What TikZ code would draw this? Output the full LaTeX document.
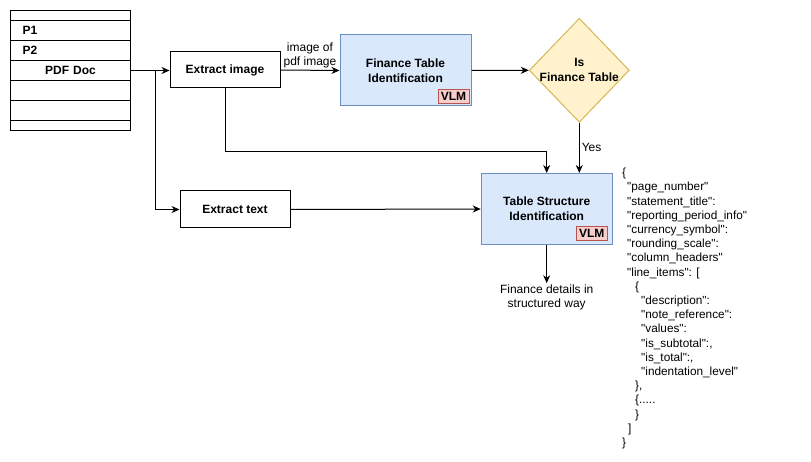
\documentclass[tikz,border=0pt]{standalone}
\usepackage{fontspec}
\setmainfont{Liberation Sans}
\newfontfamily\jsonfont{Liberation Sans}[Ligatures=TeXOff]
\usepackage{xcolor}
\usepackage{tikz}
\usetikzlibrary{matrix,shapes.geometric,arrows.meta}

\definecolor{modelfill}{HTML}{DAE8FC}
\definecolor{modelline}{HTML}{6C8EBF}
\definecolor{checkfill}{HTML}{FFF2CC}
\definecolor{checkline}{HTML}{D6B656}
\definecolor{vlmfill}{HTML}{F8CECC}
\definecolor{vlmline}{HTML}{B85450}

\newcommand{\jind}[1]{\hspace*{#1pt}}

\tikzset{
	procbox/.style={draw, line width=1pt, minimum width=110pt, minimum height=36pt, inner sep=0pt, font=\bfseries\fontsize{12}{14}\selectfont},
	modelbox/.style={draw=modelline, fill=modelfill, line width=1pt, minimum width=131pt, minimum height=71pt, inner sep=0pt, align=center, font=\bfseries\fontsize{12}{15}\selectfont},
	vlmbox/.style={draw=vlmline, fill=vlmfill, line width=1pt, minimum width=31pt, minimum height=14pt, inner sep=0pt, font=\bfseries\fontsize{12}{14}\selectfont, anchor=south east},
	checkbox/.style={diamond, aspect=0.96, draw=checkline, fill=checkfill, line width=1pt, minimum width=100pt, minimum height=104pt, inner sep=0pt},
	flow/.style={-{Stealth[length=8pt,width=7pt]}, line width=1pt},
}

\begin{document}
\begin{tikzpicture}[x=1pt, y=-1pt, font=\fontsize{12}{14}\selectfont]
	\useasboundingbox (0,0) rectangle (811,462);
	\matrix (doc) [matrix of nodes, nodes in empty cells, anchor=north west, inner sep=0pt, line width=1pt,
		nodes={draw, line width=1pt, text width=96pt, inner xsep=12pt, inner ysep=0pt, minimum height=20pt, font=\bfseries\fontsize{12}{14}\selectfont},
		row sep=-\pgflinewidth] at (9.5,9.5) {
		|[minimum height=10pt]| \\
		P1 \\
		P2 \\
		|[align=center]| PDF Doc \\
		\\
		\\
		|[minimum height=10pt]| \\
	};

	\node[procbox] (exim) at (225,70) {Extract image};
	\node[procbox, minimum height=37pt] (extxt) at (235,209.5) {Extract text};
	\node[modelbox] (fti) at (405.5,70.5) {Finance Table\\Identification};
	\node[checkbox, label={[font=\bfseries\fontsize{12}{15}\selectfont, align=center]center:Is\\Finance Table}] (isft) at (579.3,70.3) {};
	\node[modelbox] (tsi) at (546.7,209) {Table Structure\\Identification};
	\node[vlmbox] (ftivlm) at ([xshift=-2pt,yshift=2.5pt]fti.south east) {VLM};
	\node[vlmbox] (tsivlm) at ([xshift=-5pt,yshift=4pt]tsi.south east) {VLM};
	\node[align=center, inner sep=1pt] (res) at (546.7,297) {Finance details in\\structured way};
	\node[align=left, anchor=north west, inner sep=0pt, font=\jsonfont\fontsize{11.8}{14.2}\selectfont] (schema) at (622,168) {%
		\{\\
		\jind{5}"page\_number"\\
		\jind{5}"statement\_title":\\
		\jind{5}"reporting\_period\_info"\\
		\jind{5}"currency\_symbol":\\
		\jind{5}"rounding\_scale":\\
		\jind{5}"column\_headers"\\
		\jind{5}"line\_items": [\\
		\jind{13}\{\\
		\jind{19}"description":\\
		\jind{19}"note\_reference":\\
		\jind{19}"values":\\
		\jind{19}"is\_subtotal":,\\
		\jind{19}"is\_total":,\\
		\jind{19}"indentation\_level"\\
		\jind{13}\},\\
		\jind{13}\{.....\\
		\jind{13}\}\\
		\jind{6}]\\
		\}};

	% connectors
	\coordinate (split) at (155,70);
	\coordinate (bend) at (225,152);
	\draw[flow] (doc-4-1.east) -- (doc-4-1.east -| exim.west);
	\draw[flow] (split) |- (extxt.west);
	\draw[flow] (exim.east) -- node[above, align=center, inner sep=1.5pt, font=\fontsize{12}{14}\selectfont] {image of\\pdf image} (fti.west);
	\draw[flow] (fti.east) -- (isft.west);
	\draw[flow] (isft.south) -- node[right, inner sep=2pt] {Yes} (isft.south |- tsi.north);
	\draw[flow] (exim.south) -- (bend) -| (tsi.north);
	\draw[flow] (extxt.east) -- (tsi.west);
	\draw[flow] (tsi.south) -- (res.north);
\end{tikzpicture}
\end{document}
